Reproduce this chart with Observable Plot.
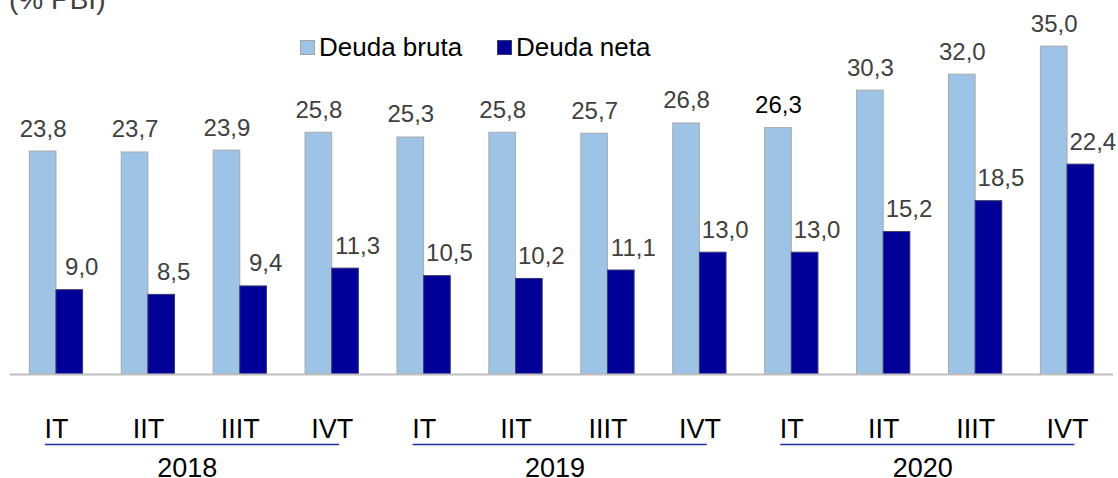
<!DOCTYPE html>
<html>
<head>
<meta charset="utf-8">
<script src="https://cdn.jsdelivr.net/npm/d3@7"></script>
<script src="https://cdn.jsdelivr.net/npm/@observablehq/plot@0.6"></script>
<style>
  html, body { margin: 0; padding: 0; background: #fff; overflow: hidden; }
  #wrap { position: relative; width: 1118px; height: 478px; font-family: "Liberation Sans", Arial, sans-serif; }
  #title { position: absolute; left: 9px; top: -14px; font-size: 28px; line-height: 28px; color: #404040; }
  .leg { position: absolute; top: 34px; font-size: 26px; line-height: 26px; color: #000; display: flex; align-items: center; }
  .sw { width: 15px; height: 15px; box-sizing: border-box; margin-right: 4px; }
  svg { position: absolute; left: 0; top: 0; }
</style>
</head>
<body>
<div id="wrap">
  <div id="title">(% PBI)</div>
  <div class="leg" style="left:300px"><span class="sw" style="background:#9DC3E6;border:1px solid #A5A5A5"></span>Deuda bruta</div>
  <div class="leg" style="left:497px"><span class="sw" style="background:#000099;border:1px solid #3a3a6a"></span>Deuda neta</div>
</div>
<script>
const quarters = ["IT", "IIT", "IIIT", "IVT"];
const years = ["2018", "2019", "2020"];
const deudaBruta = [23.8, 23.7, 23.9, 25.8, 25.3, 25.8, 25.7, 26.8, 26.3, 30.3, 32.0, 35.0];
const deudaNeta  = [9.0, 8.5, 9.4, 11.3, 10.5, 10.2, 11.1, 13.0, 13.0, 15.2, 18.5, 22.4];

const rows = years.flatMap((y, j) => quarters.map((q, k) => {
  const i = j * 4 + k;
  return {i, year: y, q, bruta: deudaBruta[i], neta: deudaNeta[i]};
}));
const yearRows = years.map((y, j) => ({year: y, first: j * 4, last: j * 4 + 3}));

const half = 0.29;
const fmt = v => d3.format(".1f")(v).replace(".", ",");
const labelFont = "Liberation Sans, Arial, sans-serif";

const chart = Plot.plot({
  width: 1118,
  height: 478,
  marginTop: 18,
  marginBottom: 104,
  marginLeft: 10,
  marginRight: 5,
  style: {fontFamily: labelFont, background: "transparent", overflow: "visible"},
  x: {type: "linear", domain: [-0.5, 11.5], axis: null},
  y: {domain: [0, 38], axis: null},
  marks: [
    Plot.rectY(rows, {x1: d => d.i - half, x2: d => d.i, y1: 0, y2: "bruta", fill: "#9DC3E6", stroke: "#A9A9A9", strokeWidth: 1}),
    Plot.rectY(rows, {x1: d => d.i, x2: d => d.i + half, y1: 0, y2: "neta", fill: "#000099", stroke: "#3a3a6a", strokeWidth: 1}),
    Plot.ruleY([0], {stroke: "#BFBFBF", strokeWidth: 2}),
    Plot.text(rows, {x: d => d.i - half / 2, y: "bruta", text: d => fmt(d.bruta), dy: -15, lineAnchor: "bottom", fontSize: 24, fill: d => d.i === 8 ? "#000000" : "#404040"}),
    Plot.text(rows, {x: d => d.i + half / 2, y: "neta", text: d => fmt(d.neta), dy: -15, dx: 12, lineAnchor: "bottom", fontSize: 24, fill: "#404040"}),
    Plot.text(rows, {x: "i", text: "q", frameAnchor: "bottom", dy: 55, lineAnchor: "middle", fontSize: 27, fill: "#000"}),
    Plot.ruleY(yearRows, {x1: d => d.first - 0.12, x2: d => d.last + 0.08, y: 0, dy: 70, stroke: "#1f2fa8", strokeWidth: 1.5}),
    Plot.text(yearRows, {x: d => (d.first + d.last) / 2, text: "year", frameAnchor: "bottom", dy: 94, dx: -7, lineAnchor: "middle", fontSize: 27, fill: "#000"})
  ]
});
document.getElementById("wrap").prepend(chart);
</script>
</body>
</html>
